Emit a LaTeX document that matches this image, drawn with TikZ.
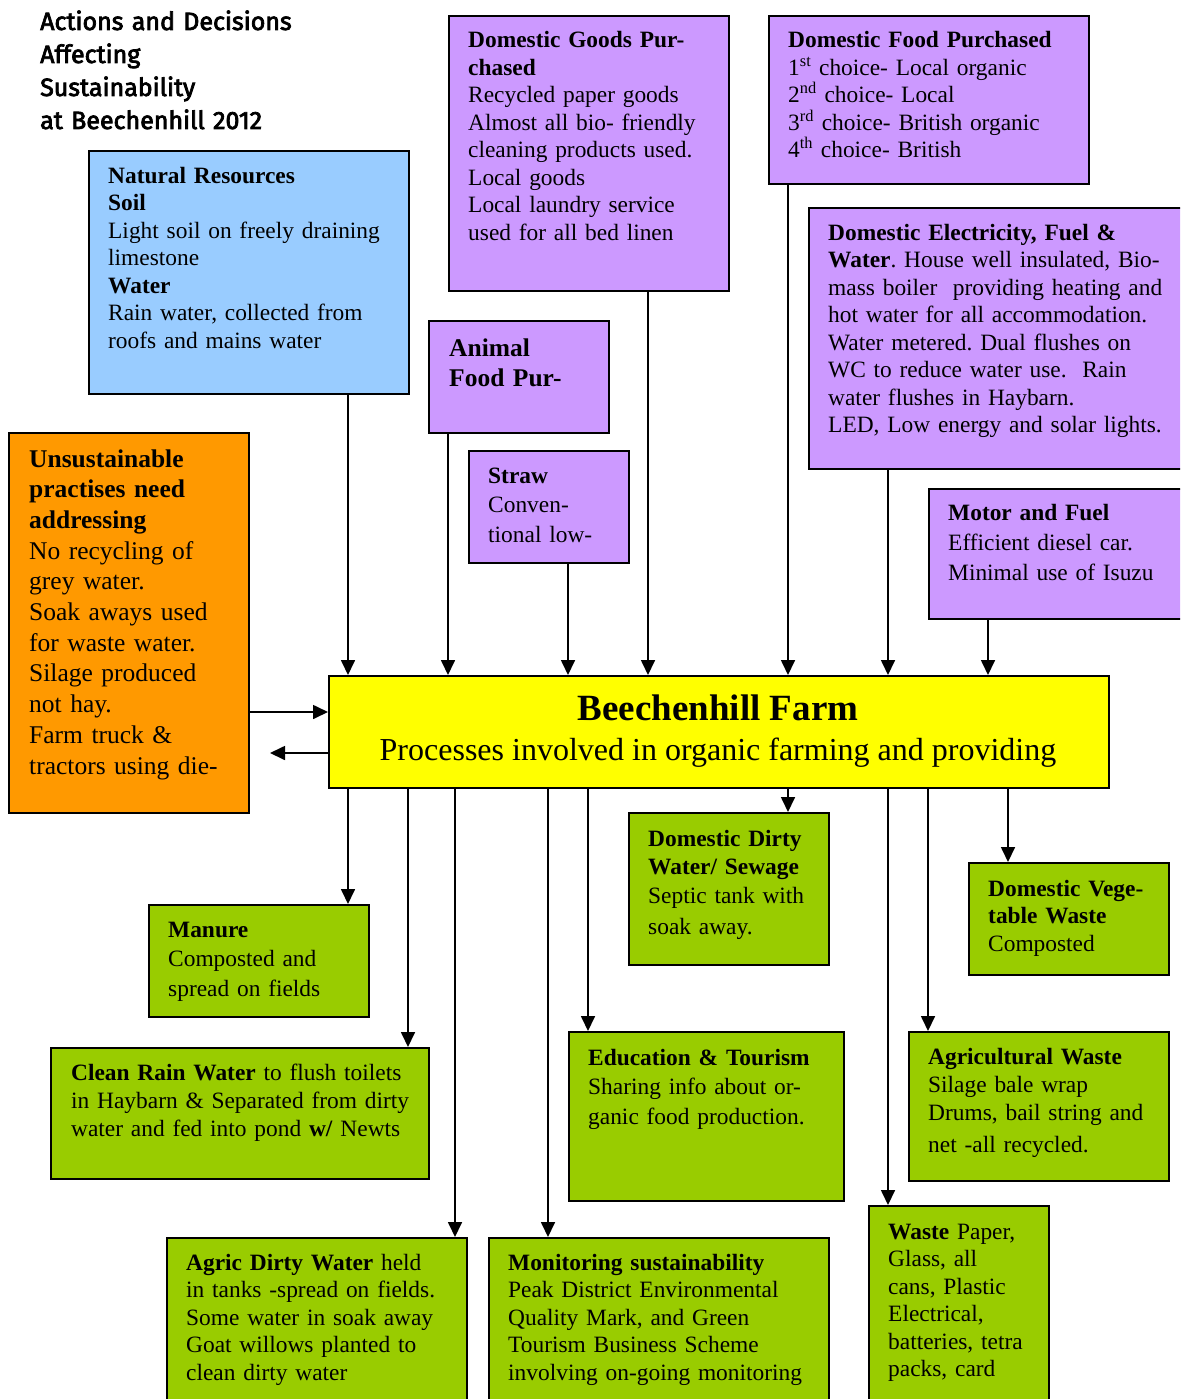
\documentclass[tikz,border=0pt]{standalone}
\usepackage{fontspec}
\setmainfont{Liberation Serif}
\newfontfamily\titlefont[FakeBold=3]{Fira Sans}
\usetikzlibrary{arrows.meta}
\definecolor{purp}{HTML}{CC99FF}
\definecolor{skyb}{HTML}{99CCFF}
\definecolor{orng}{HTML}{FF9900}
\definecolor{grn}{HTML}{99CC00}
\definecolor{yel}{HTML}{FFFF00}
\tikzset{
  boxbase/.style={draw=black, line width=2.2pt, anchor=north west, inner sep=0pt, rectangle},
  pbox/.style={boxbase, fill=purp},
  bbox/.style={boxbase, fill=skyb},
  obox/.style={boxbase, fill=orng},
  gbox/.style={boxbase, fill=grn},
  ybox/.style={boxbase, fill=yel},
  txt/.style={anchor=base west, inner sep=0pt, align=left, text width=420pt, font=\fontsize{23.4}{27.5}\selectfont},
  arr/.style={line width=1.7pt, -{Triangle[length=15pt,width=14pt]}}
}
\begin{document}
\frenchspacing
\begin{tikzpicture}[x=1pt,y=-1pt]
\useasboundingbox (0,0) rectangle (1180,1399);
\clip (0,0) rectangle (1180,1399);
% title
\node[txt, font=\titlefont\fontsize{25}{33}\selectfont] (title) at (40,30) {Actions and Decisions\\Affecting\\Sustainability\\at Beechenhill 2012};
% boxes
\node[bbox, minimum width=320pt, minimum height=243pt] (nr) at (88,150) {};
\node[pbox, minimum width=280pt, minimum height=275pt] (dg) at (448,15) {};
\node[pbox, minimum width=320pt, minimum height=168pt] (df) at (768,15) {};
\node[pbox, minimum width=390pt, minimum height=261pt] (de) at (808,207) {};
\node[pbox, minimum width=180pt, minimum height=112pt] (af) at (428,320) {};
\node[pbox, minimum width=160pt, minimum height=112pt] (st) at (468,450) {};
\node[pbox, minimum width=262pt, minimum height=130pt] (mf) at (928,488) {};
\node[obox, minimum width=240pt, minimum height=380pt] (un) at (8,432) {};
\node[ybox, minimum width=780pt, minimum height=112pt] (farm) at (328,675) {};
\node[gbox, minimum width=220pt, minimum height=112pt] (ma) at (148,904) {};
\node[gbox, minimum width=200pt, minimum height=152pt] (dw) at (628,812) {};
\node[gbox, minimum width=200pt, minimum height=112pt] (vw) at (968,862) {};
\node[gbox, minimum width=378pt, minimum height=131pt] (cr) at (50,1047) {};
\node[gbox, minimum width=275pt, minimum height=169pt] (et) at (568,1031) {};
\node[gbox, minimum width=260pt, minimum height=149pt] (aw) at (908,1031) {};
\node[gbox, minimum width=300pt, minimum height=190pt] (ad) at (166,1237) {};
\node[gbox, minimum width=340pt, minimum height=190pt] (mo) at (488,1237) {};
\node[gbox, minimum width=180pt, minimum height=220pt] (wa) at (868,1205) {};
% texts
\node[txt] (nr-t) at (108,183) {\textbf{Natural Resources}\\\textbf{Soil}\\Light soil on freely draining\\limestone\\\textbf{Water}\\Rain water, collected from\\roofs and mains water};
\node[txt] (dg-t) at (468,48) {\textbf{Domestic Goods Pur-}\\\textbf{chased}\\Recycled paper goods\\Almost all bio- friendly\\cleaning products used.\\Local goods\\Local laundry service\\used for all bed linen};
\node[txt] (df-t) at (788,48) {\textbf{Domestic Food Purchased}\\1\textsuperscript{st} choice- Local organic\\2\textsuperscript{nd} choice- Local\\3\textsuperscript{rd} choice- British organic\\4\textsuperscript{th} choice- British};
\node[txt] (de-t) at (828,240) {\textbf{Domestic Electricity, Fuel \&}\\\textbf{Water}. House well insulated, Bio-\\mass boiler\ \ providing heating and\\hot water for all accommodation.\\Water metered. Dual flushes on\\WC to reduce water use.\ \ Rain\\water flushes in Haybarn.\\LED, Low energy and solar lights.};
\node[txt, font=\fontsize{25.5}{30}\selectfont] (af-t) at (449,356) {\textbf{Animal}\\\textbf{Food Pur-}};
\node[txt, font=\fontsize{23.4}{29.5}\selectfont] (st-t) at (488,483) {\textbf{Straw}\\Conven-\\tional low-};
\node[txt, font=\fontsize{23.4}{30}\selectfont] (mf-t) at (948,520) {\textbf{Motor and Fuel}\\Efficient diesel car.\\Minimal use of Isuzu};
\node[txt, font=\fontsize{25.5}{30.7}\selectfont] (un-t) at (29,467) {\textbf{Unsustainable}\\\textbf{practises need}\\\textbf{addressing}\\No recycling of\\grey water.\\Soak aways used\\for waste water.\\Silage produced\\not hay.\\Farm truck \&\\tractors using die-};
\node[anchor=base, inner sep=0pt, font=\fontsize{37}{40}\selectfont\bfseries] (farm-t) at (718,720) {Beechenhill Farm};
\node[anchor=base, inner sep=0pt, font=\fontsize{32}{36}\selectfont] (farm-s) at (718,760) {Processes involved in organic farming and providing};
\node[txt, font=\fontsize{23.4}{29.5}\selectfont] (ma-t) at (168,937) {\textbf{Manure}\\Composted and\\spread on fields};
\node[txt, font=\fontsize{23.4}{28.5}\selectfont] (dw-t) at (648,846) {\textbf{Domestic Dirty}\\\textbf{Water/ Sewage}\\Septic tank with\\[3pt]soak away.};
\node[txt] (vw-t) at (988,896) {\textbf{Domestic Vege-}\\\textbf{table Waste}\\Composted};
\node[txt, font=\fontsize{23.4}{28}\selectfont] (cr-t) at (71,1080) {\textbf{Clean Rain Water} to flush toilets\\in Haybarn \& Separated from dirty\\water and fed into pond \textbf{w/} Newts};
\node[txt, font=\fontsize{23.4}{29.5}\selectfont] (et-t) at (588,1065) {\textbf{Education \& Tourism}\\Sharing info about or-\\ganic food production.};
\node[txt, font=\fontsize{23.4}{28}\selectfont] (aw-t) at (928,1064) {\textbf{Agricultural Waste}\\Silage bale wrap\\Drums, bail string and\\[4pt]net -all recycled.};
\node[txt] (ad-t) at (186,1270) {\textbf{Agric Dirty Water} held\\in tanks -spread on fields.\\Some water in soak away\\Goat willows planted to\\clean dirty water};
\node[txt] (mo-t) at (508,1270) {\textbf{Monitoring sustainability}\\Peak District Environmental\\Quality Mark, and Green\\Tourism Business Scheme\\involving on-going monitoring};
\node[txt] (wa-t) at (888,1239) {\textbf{Waste} Paper,\\Glass, all\\cans, Plastic\\Electrical,\\batteries, tetra\\packs, card};
% helper coordinates for connector columns
\coordinate (x348) at (348,0);
\coordinate (x408) at (408,0);
\coordinate (x448) at (448,0);
\coordinate (x455) at (455,0);
\coordinate (x548) at (548,0);
\coordinate (x568) at (568,0);
\coordinate (x588) at (588,0);
\coordinate (x648) at (648,0);
\coordinate (x788) at (788,0);
\coordinate (x888) at (888,0);
\coordinate (x928) at (928,0);
\coordinate (x988) at (988,0);
\coordinate (x1008) at (1008,0);
\coordinate (y712) at (0,712);
\coordinate (y753) at (0,753);
\coordinate (free) at (270,753);
% inputs
\draw[arr] (nr.south -| x348) -- (farm.north -| x348);
\draw[arr] (af.south -| x448) -- (farm.north -| x448);
\draw[arr] (st.south -| x568) -- (farm.north -| x568);
\draw[arr] (dg.south -| x648) -- (farm.north -| x648);
\draw[arr] (df.south -| x788) -- (farm.north -| x788);
\draw[arr] (de.south -| x888) -- (farm.north -| x888);
\draw[arr] (mf.south -| x988) -- (farm.north -| x988);
\draw[arr] (un.east |- y712) -- (farm.west |- y712);
\draw[arr] (farm.west |- y753) -- (free);
% outputs
\draw[arr] (farm.south -| x348) -- (ma.north -| x348);
\draw[arr] (farm.south -| x408) -- (cr.north -| x408);
\draw[arr] (farm.south -| x455) -- (ad.north -| x455);
\draw[arr] (farm.south -| x548) -- (mo.north -| x548);
\draw[arr] (farm.south -| x588) -- (et.north -| x588);
\draw[arr] (farm.south -| x788) -- (dw.north -| x788);
\draw[arr] (farm.south -| x888) -- (wa.north -| x888);
\draw[arr] (farm.south -| x928) -- (aw.north -| x928);
\draw[arr] (farm.south -| x1008) -- (vw.north -| x1008);
\end{tikzpicture}
\end{document}
